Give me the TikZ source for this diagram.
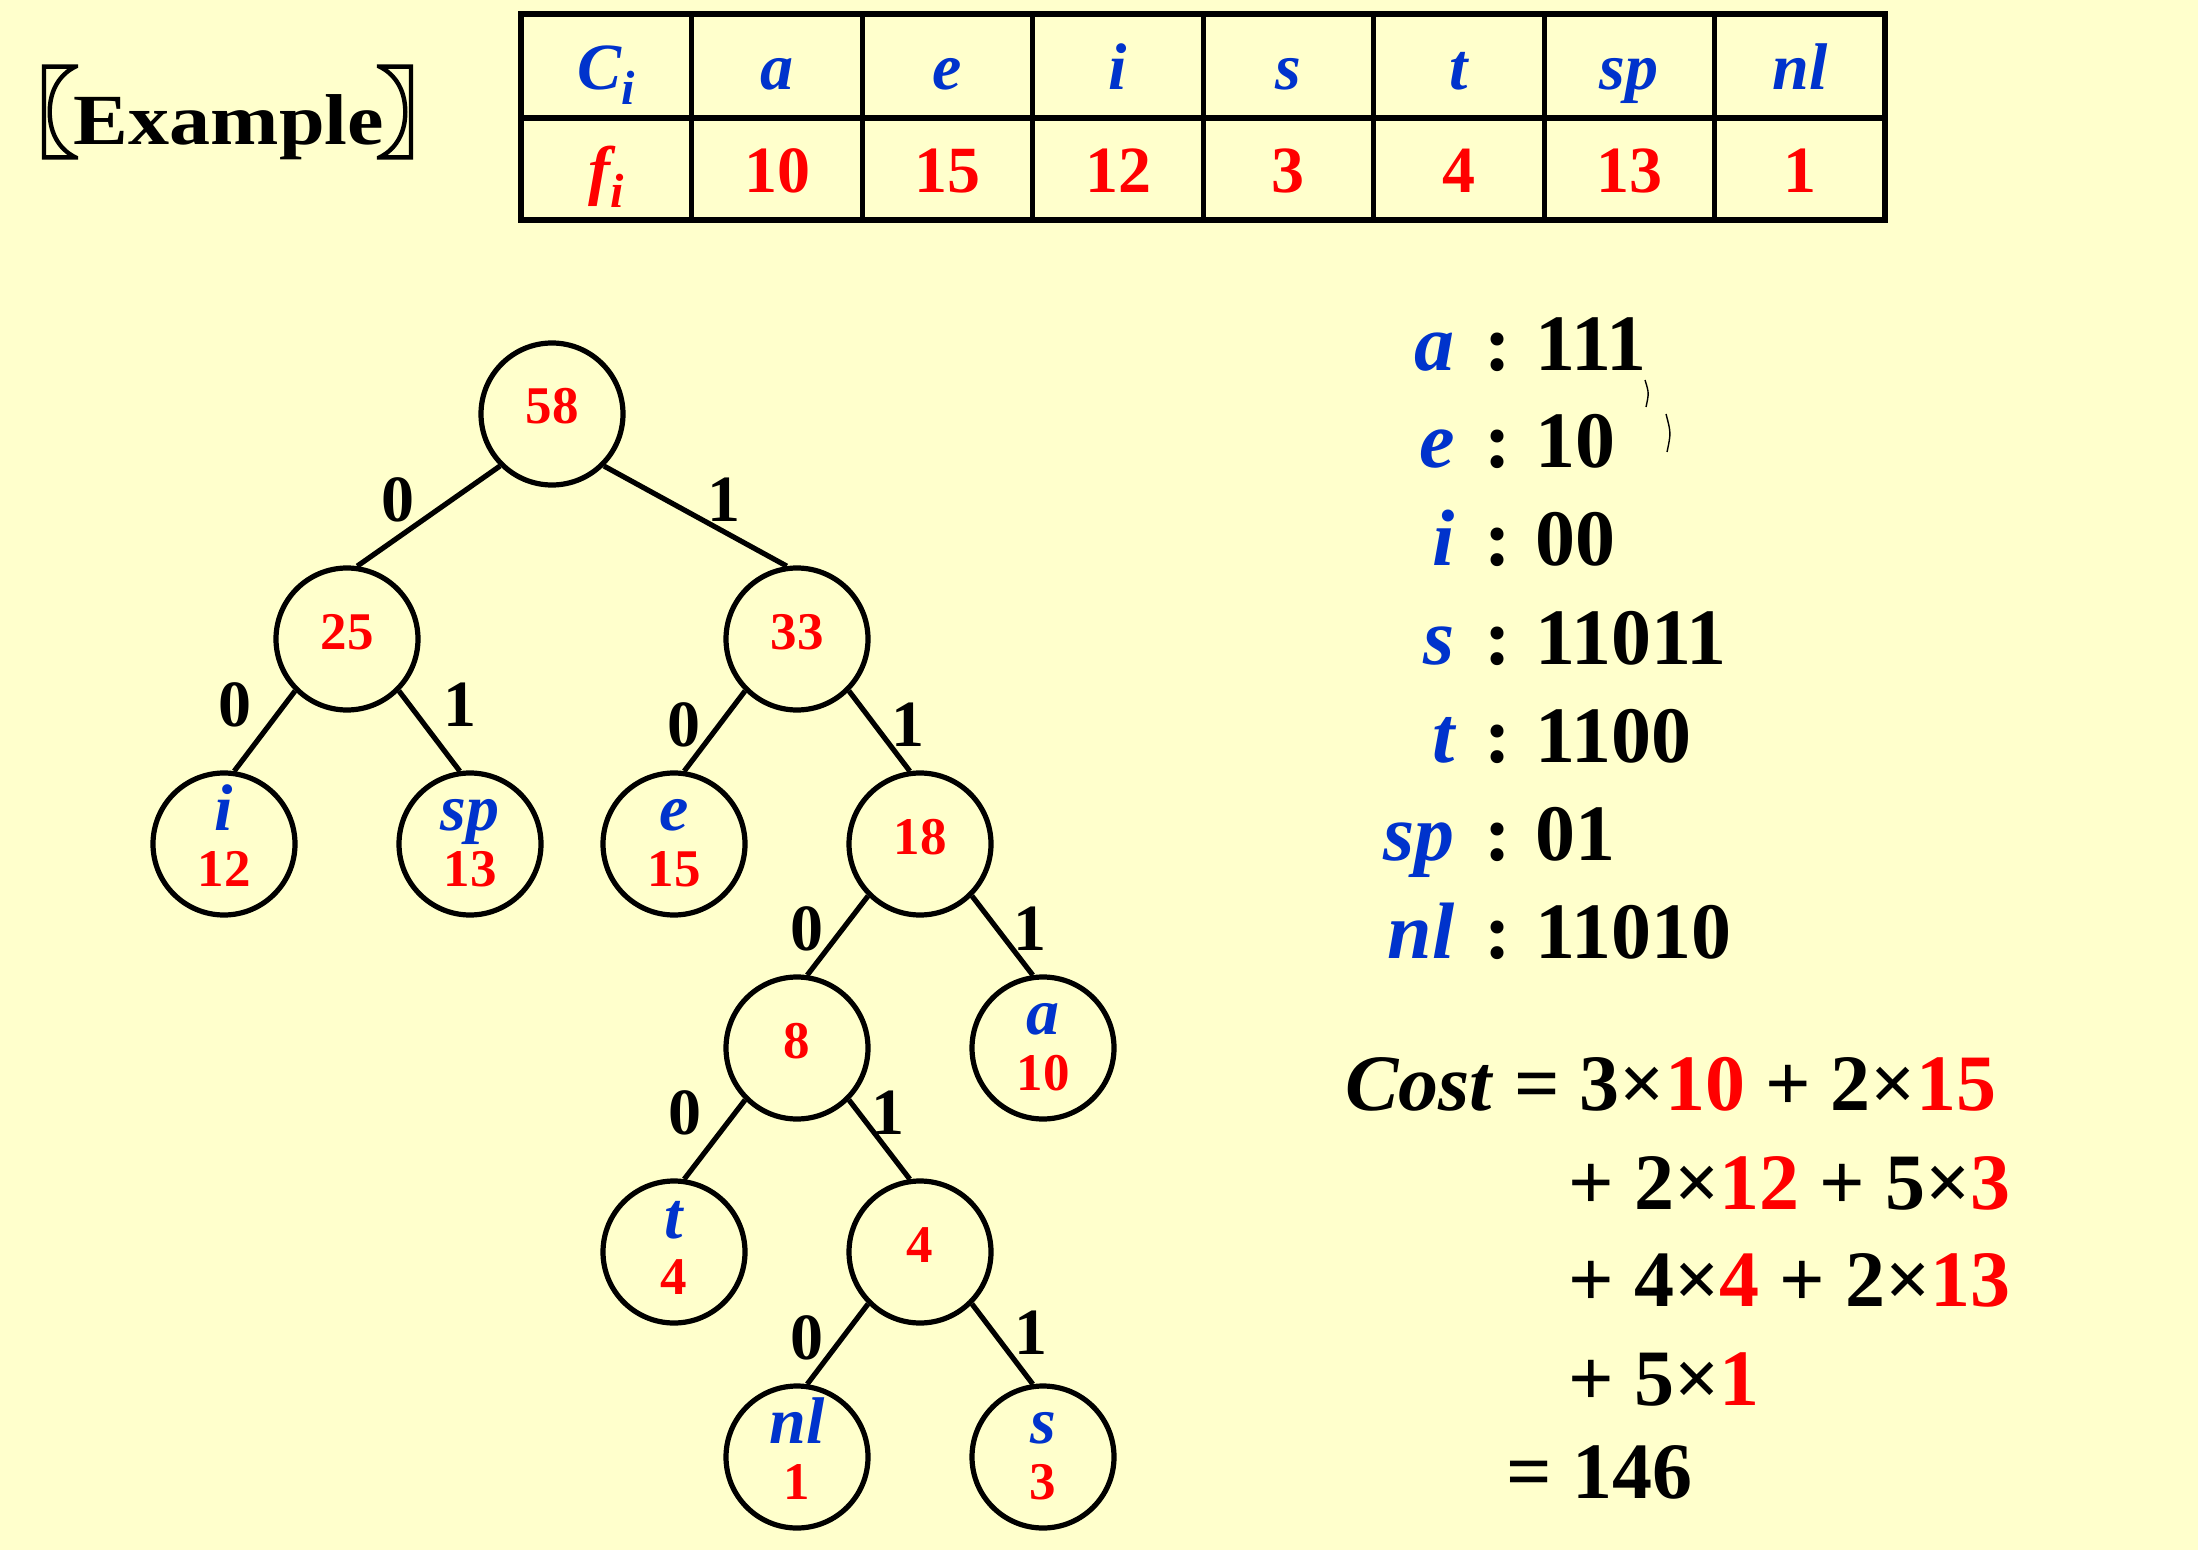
\documentclass[tikz,border=0pt]{standalone}
\usepackage{fontspec}
\setmainfont{Liberation Serif}
\newfontfamily\cjkfont[FakeBold=2]{Noto Sans CJK SC}
\usetikzlibrary{calc}
\definecolor{bg}{RGB}{255,255,204}
\definecolor{cblue}{RGB}{0,51,204}
\definecolor{cred}{RGB}{255,0,0}
\begin{document}
\begin{tikzpicture}[x=0.5pt,y=-0.5pt,
  hnode/.style={circle,draw=black,line width=2.6pt,minimum size=71pt,inner sep=0pt},
  tedge/.style={line width=2.6pt},
  grid/.style={line width=2.8pt},
  bit/.style={font=\fontsize{33}{36}\selectfont\bfseries,inner sep=0pt,anchor=base},
  wnum/.style={font=\fontsize{26.5}{28}\selectfont\bfseries,text=cred,inner sep=0pt,anchor=base},
  wlet/.style={font=\fontsize{33}{36}\selectfont\bfseries\itshape,text=cblue,inner sep=0pt,anchor=base},
  thead/.style={font=\fontsize{33}{36}\selectfont\bfseries\itshape,text=cblue,inner sep=0pt,anchor=base},
  tval/.style={font=\fontsize{33}{36}\selectfont\bfseries,text=cred,inner sep=0pt,anchor=base},
  clet/.style={font=\fontsize{40}{44}\selectfont\bfseries\itshape,text=cblue,inner sep=0pt,anchor=base east},
  ccol/.style={font=\fontsize{40}{44}\selectfont\bfseries,inner sep=0pt,anchor=base},
  ccode/.style={font=\fontsize{40}{44}\selectfont\bfseries,inner sep=0pt,anchor=base west},
  cost/.style={font=\fontsize{40}{44}\selectfont\bfseries,inner sep=0pt,anchor=base west}]
\fill[bg] (0,0) rectangle (2198,1550);
\useasboundingbox (0,0) rectangle (2198,1550);
% title
\node[anchor=base east,font=\cjkfont\fontsize{50}{54}\selectfont,inner sep=0pt] (lbr) at (81,150) {\makebox[0.45em][r]{〖}};
\node[anchor=base,font=\fontsize{36}{40}\selectfont\bfseries,inner sep=0pt] (ex) at (229,145) {\scalebox{1.14}[1]{Example}};
\node[anchor=base west,font=\cjkfont\fontsize{50}{54}\selectfont,inner sep=0pt] (rbr) at (374,150) {\makebox[0.45em][l]{〗}};
% table
\draw[grid] (521,14) rectangle (1885,220);
\draw[grid] (521,118) -- (1885,118);
\foreach \k in {1,...,7} { \draw[line width=2.5pt] ({521+170.5*\k},14) -- ({521+170.5*\k},220); }
\node[thead] (h0) at (606,90) {C\raisebox{-0.22em}{\fontsize{24}{26}\selectfont i}};
\node[thead] (h1) at (777,90) {a};
\node[thead] (h2) at (947,90) {e};
\node[thead] (h3) at (1118,90) {i};
\node[thead] (h4) at (1288,90) {s};
\node[thead] (h5) at (1459,90) {t};
\node[thead] (h6) at (1629,90) {sp};
\node[thead] (h7) at (1800,90) {nl};
\node[thead,text=cred] (v0) at (606,193) {f\raisebox{-0.22em}{\fontsize{24}{26}\selectfont i}};
\node[tval] (v1) at (777,193) {10};
\node[tval] (v2) at (947,193) {15};
\node[tval] (v3) at (1118,193) {12};
\node[tval] (v4) at (1288,193) {3};
\node[tval] (v5) at (1459,193) {4};
\node[tval] (v6) at (1629,193) {13};
\node[tval] (v7) at (1800,193) {1};
% tree nodes
\node[hnode] (n58) at (552,414) {};
\node[hnode] (n25) at (347,639) {};
\node[hnode] (n33) at (797,639) {};
\node[hnode] (ni) at (224,844) {};
\node[hnode] (nsp) at (470,844) {};
\node[hnode] (ne) at (674,844) {};
\node[hnode] (n18) at (920,844) {};
\node[hnode] (n8) at (797,1048) {};
\node[hnode] (na) at (1043,1048) {};
\node[hnode] (nt) at (674,1252) {};
\node[hnode] (n4) at (920,1252) {};
\node[hnode] (nnl) at (797,1457) {};
\node[hnode] (ns) at (1043,1457) {};
% internal weights
\node[wnum] (w58) at ($(n58)+(0,10)$) {58};
\node[wnum] (w25) at ($(n25)+(0,10)$) {25};
\node[wnum] (w33) at ($(n33)+(0,10)$) {33};
\node[wnum] (w18) at ($(n18)+(0,10)$) {18};
\node[wnum] (w8) at ($(n8)+(0,10)$) {8};
\node[wnum] (w4) at ($(n4)+(0,10)$) {4};
% leaves
\node[wlet] (li) at ($(ni)+(0,-14)$) {i};
\node[wnum] (wi) at ($(ni)+(0,42)$) {12};
\node[wlet] (lsp) at ($(nsp)+(0,-14)$) {sp};
\node[wnum] (wsp) at ($(nsp)+(0,42)$) {13};
\node[wlet] (le) at ($(ne)+(0,-14)$) {e};
\node[wnum] (we) at ($(ne)+(0,42)$) {15};
\node[wlet] (la) at ($(na)+(0,-14)$) {a};
\node[wnum] (wa) at ($(na)+(0,42)$) {10};
\node[wlet] (lt) at ($(nt)+(0,-14)$) {t};
\node[wnum] (wt) at ($(nt)+(0,42)$) {4};
\node[wlet] (lnl) at ($(nnl)+(0,-14)$) {nl};
\node[wnum] (wnl) at ($(nnl)+(0,42)$) {1};
\node[wlet] (ls) at ($(ns)+(0,-14)$) {s};
\node[wnum] (ws) at ($(ns)+(0,42)$) {3};
% edges
\draw[tedge] (n58.225) -- (n25.82);
\draw[tedge] (n58.315) -- (n33.98);
\draw[tedge] (n25.225) -- (ni.82);
\draw[tedge] (n25.315) -- (nsp.98);
\draw[tedge] (n33.225) -- (ne.82);
\draw[tedge] (n33.315) -- (n18.98);
\draw[tedge] (n18.225) -- (n8.82);
\draw[tedge] (n18.315) -- (na.98);
\draw[tedge] (n8.225) -- (nt.82);
\draw[tedge] (n8.315) -- (n4.98);
\draw[tedge] (n4.225) -- (nnl.82);
\draw[tedge] (n4.315) -- (ns.98);
% edge labels
\node[bit] (b1) at (398,522) {0};
\node[bit] (b2) at (724,522) {1};
\node[bit] (b3) at (235,726) {0};
\node[bit] (b4) at (460,726) {1};
\node[bit] (b5) at (684,746) {0};
\node[bit] (b6) at (908,746) {1};
\node[bit] (b7) at (807,950) {0};
\node[bit] (b8) at (1030,950) {1};
\node[bit] (b9) at (685,1134) {0};
\node[bit] (b10) at (888,1134) {1};
\node[bit] (b11) at (807,1359) {0};
\node[bit] (b12) at (1031,1354) {1};
% code list
\foreach \l/\c/\y [count=\n] in {a/111/371, e/10/468, i/00/566, s/11011/664, t/1100/762, sp/01/860, nl/11010/958} {
  \node[clet] (cl\n) at (1455,\y) {\l};
  \node[ccol] (cc\n) at (1498,\y) {:};
  \node[ccode] (cd\n) at (1535,\y) {\c};
}
\draw[line width=0.7pt] (1645,380) .. controls (1649,393) .. (1646,407);
\draw[line width=0.7pt] (1666,414) .. controls (1671,433) .. (1667,452);
% cost
\node[cost] (c1) at (1345,1110) {\textit{Cost} = 3×\textcolor{cred}{10} + 2×\textcolor{cred}{15}};
\node[cost] (c2) at (1568,1209) {+ 2×\textcolor{cred}{12} + 5×\textcolor{cred}{3}};
\node[cost] (c3) at (1568,1306) {+ 4×\textcolor{cred}{4} + 2×\textcolor{cred}{13}};
\node[cost] (c4) at (1568,1405) {+ 5×\textcolor{cred}{1}};
\node[cost] (c5) at (1506,1498) {= 146};
\end{tikzpicture}
\end{document}
